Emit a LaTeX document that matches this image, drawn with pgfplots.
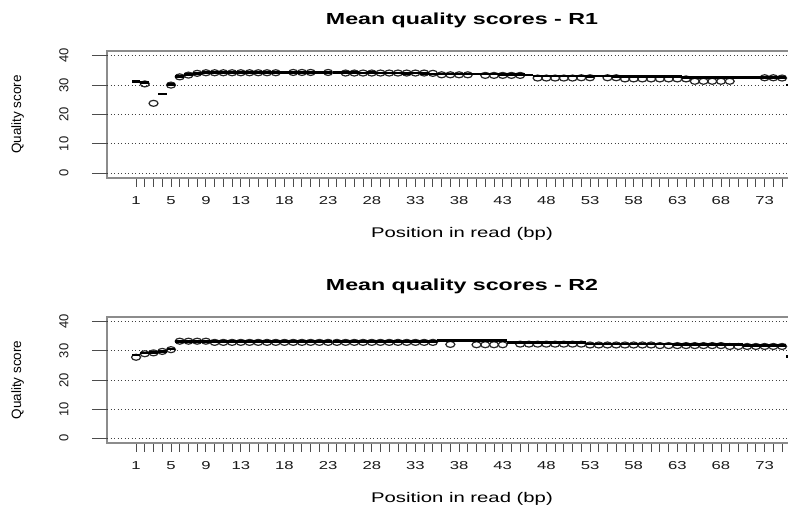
\documentclass[border=0pt]{standalone}
\usepackage{pgfplots}
\pgfplotsset{compat=1.18}
\usepackage{pgfplotstable}
\usepackage{fontspec}
\setmainfont{Liberation Sans}
\newfontfamily\wide[FakeStretch=1.45]{Liberation Sans}

% ---------- R1 ----------
\pgfplotstableread{
x y
1 31.3
2 30.8
4 27.0
5 30.2
6 33.0
7 33.6
8 34.0
9 34.3
10 34.3
11 34.3
12 34.3
13 34.3
14 34.3
15 34.3
16 34.3
17 34.3
18 34.3
19 34.3
20 34.3
21 34.3
22 34.3
23 34.2
24 34.2
25 34.2
26 34.2
27 34.1
28 34.2
29 34.1
30 34.1
31 34.1
32 34.0
33 34.1
34 34.0
35 33.8
36 33.8
37 33.8
38 33.8
39 33.8
40 33.8
41 33.8
42 33.8
43 33.7
44 33.7
45 33.7
46 33.4
47 33.1
48 33.1
49 33.1
50 33.1
51 33.1
52 33.1
53 33.0
54 33.1
55 33.1
56 33.0
57 33.0
58 33.0
59 33.0
60 33.0
61 33.0
62 33.0
63 33.0
64 32.5
65 32.5
66 32.5
67 32.5
68 32.5
69 32.5
70 32.5
71 32.5
72 32.5
73 32.5
74 32.5
75 32.5
76 30.0
}\dashA

\pgfplotstableread{
x y
2 30.4
3 23.8
5 30.0
6 32.8
7 33.4
8 34.0
9 34.2
10 34.2
11 34.2
12 34.2
13 34.2
14 34.2
15 34.2
16 34.2
17 34.2
19 34.3
20 34.3
21 34.3
23 34.3
25 34.1
26 34.1
27 34.1
28 34.1
29 34.1
30 34.1
31 34.1
32 34.1
33 34.1
34 34.1
35 34.0
36 33.5
37 33.5
38 33.5
39 33.5
41 33.3
42 33.3
43 33.3
44 33.3
45 33.3
47 32.4
48 32.4
49 32.4
50 32.4
51 32.4
52 32.5
53 32.5
55 32.5
56 32.5
57 32.1
58 32.1
59 32.1
60 32.1
61 32.1
62 32.1
63 32.1
64 32.1
65 31.3
66 31.3
67 31.3
68 31.3
69 31.3
73 32.5
74 32.5
75 32.4
}\circA

% ---------- R2 ----------
\pgfplotstableread{
x y
1 28.6
2 29.2
3 29.4
4 29.8
5 30.6
6 33.3
7 33.3
8 33.3
9 33.3
10 33.3
11 33.3
12 33.3
13 33.3
14 33.3
15 33.3
16 33.3
17 33.3
18 33.3
19 33.3
20 33.3
21 33.2
22 33.2
23 33.2
24 33.2
25 33.2
26 33.2
27 33.2
28 33.2
29 33.2
30 33.2
31 33.2
32 33.2
33 33.2
34 33.2
35 33.2
36 33.5
37 33.5
38 33.5
39 33.5
40 33.5
41 33.5
42 33.5
43 33.5
44 32.8
45 32.8
46 32.8
47 32.8
48 32.8
49 32.8
50 32.8
51 32.8
52 32.8
53 32.3
54 32.3
55 32.3
56 32.3
57 32.3
58 32.3
59 32.3
60 32.3
61 32.3
62 32.3
63 32.1
64 32.1
65 32.1
66 32.1
67 32.1
68 32.1
69 32.1
70 32.1
71 31.8
72 31.8
73 31.8
74 31.8
75 31.8
76 28.0
}\dashB

\pgfplotstableread{
x y
1 27.8
2 29.0
3 29.3
4 29.8
5 30.4
6 33.3
7 33.3
8 33.3
9 33.3
10 32.9
11 32.9
12 32.9
13 32.9
14 32.9
15 32.9
16 32.9
17 32.9
18 32.9
19 32.9
20 32.9
21 32.9
22 32.9
23 32.9
24 32.9
25 32.9
26 32.9
27 32.9
28 32.9
29 32.9
30 32.9
31 32.9
32 32.9
33 32.9
34 32.9
35 32.9
37 32.2
40 32.1
41 32.1
42 32.1
43 32.1
45 32.3
46 32.3
47 32.3
48 32.3
49 32.3
50 32.3
51 32.3
52 32.3
53 32.0
54 32.0
55 32.0
56 32.0
57 32.0
58 32.0
59 32.0
60 32.0
61 31.8
62 31.8
63 31.8
64 31.8
65 31.8
66 31.8
67 31.8
68 31.8
69 31.5
70 31.5
71 31.5
72 31.5
73 31.5
74 31.5
75 31.5
}\circB

\pgfplotsset{
  rqual/.style={
    scale only axis, width=710bp,
    xmin=-2.33, xmax=79, ymin=-1.6, ymax=41.6,
    axis line style={black!45, line width=1.1bp},
    /pgf/number format/assume math mode=true,
    xtick={1,5,9,13,18,23,28,33,38,43,48,53,58,63,68,73},
    minor xtick={1,...,76},
    ytick=\empty,
    extra y ticks={0,10,20,30,40},
    extra y tick style={major tick length=15bp, grid=major},
    tick align=outside, xtick pos=bottom, ytick pos=left,
    major tick length=9bp, minor tick length=9bp,
    tick style={black!70, line width=0.9bp},
    major grid style={black!75, dash pattern=on 1bp off 2.5bp, line width=0.8bp},
    xticklabel style={font=\wide\fontsize{11.5bp}{11.5bp}\selectfont, text=black!90, yshift=-6bp},
    yticklabel style={font=\fontsize{13bp}{13bp}\selectfont, text=black!90, xshift=-20bp, rotate=90, anchor=south},
    xlabel={Position in read (bp)},
    ylabel={Quality score},
    xlabel style={font=\wide\fontsize{14bp}{14bp}\selectfont, at={(axis description cs:0.5,-0.44)}, anchor=center},
    ylabel style={font=\fontsize{13.5bp}{14bp}\selectfont, at={(axis description cs:-0.126,0.5)}, anchor=center},
    title style={font=\wide\bfseries\fontsize{16bp}{16bp}\selectfont, anchor=center, yshift=-6pt},
    clip=false,
  },
  circs/.style={only marks, mark=o, mark size=3bp, mark options={xscale=1.5, draw=black!85, line width=1.2bp}},
  dashes/.style={only marks, mark=-, mark size=4.36bp, mark options={line width=2.6bp, draw=black}},
}

\begin{document}
\begin{tikzpicture}
\useasboundingbox (0,0) rectangle (788bp,507bp);
\clip (0,0) rectangle (788bp,507bp);
\begin{axis}[rqual, height=127bp, at={(107bp,329bp)}, anchor=south west,
  title={Mean quality scores - R1},
  title style={at={(axis description cs:0.5,1.245)}}]
\addplot[circs] table {\circA};
\addplot[dashes] table {\dashA};
\end{axis}
\begin{axis}[rqual, height=126bp, at={(107bp,64bp)}, anchor=south west,
  title={Mean quality scores - R2},
  title style={at={(axis description cs:0.5,1.24)}}]
\addplot[circs] table {\circB};
\addplot[dashes] table {\dashB};
\end{axis}
\end{tikzpicture}
\end{document}
